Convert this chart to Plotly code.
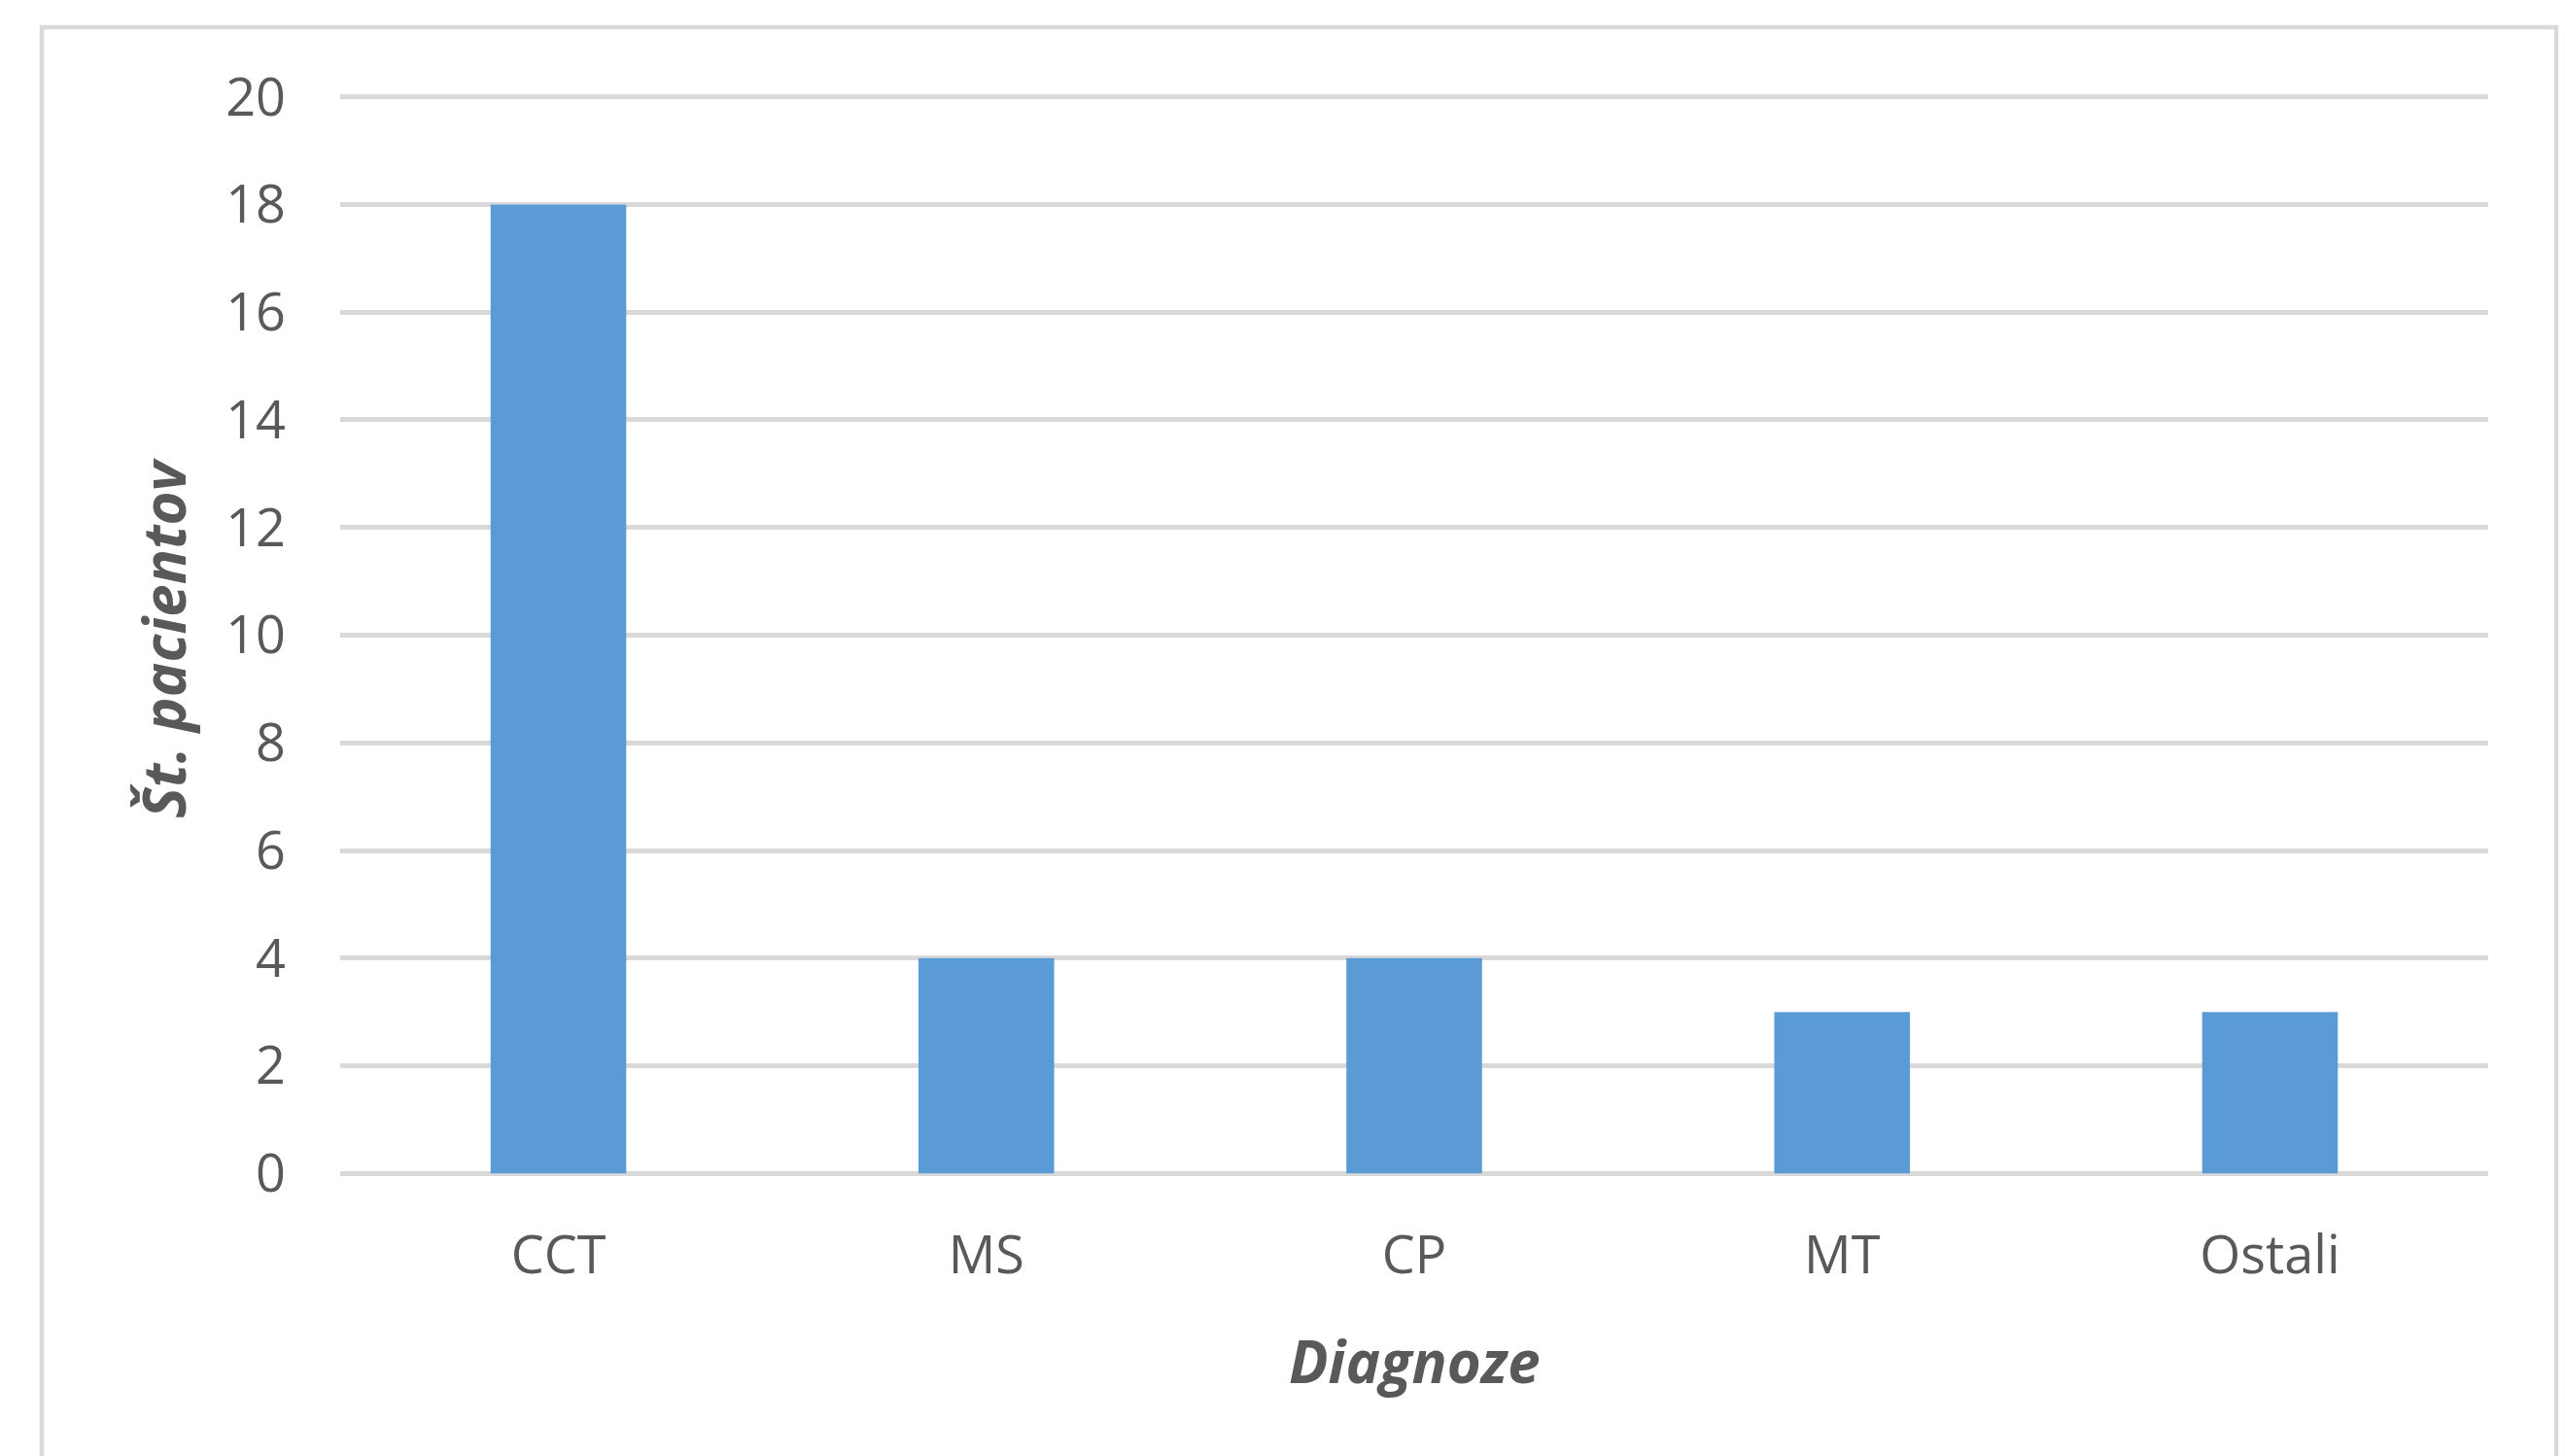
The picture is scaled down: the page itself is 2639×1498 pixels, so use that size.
import plotly.graph_objects as go

categories = ["CCT", "MS", "CP", "MT", "Ostali"]
patients = [18, 4, 4, 3, 3]
y_ticks = [0, 2, 4, 6, 8, 10, 12, 14, 16, 18, 20]
x_title = "Diagnoze"
y_title = "Št. pacientov"

W, H = 2639, 1498
L, R, T, B = 350, 79, 98, 289
pw = W - L - R
ph = H - T - B

def px_x(px):
    return (px - L) / pw

def px_y(py):
    return (H - B - py) / ph

fig = go.Figure()
fig.add_trace(go.Bar(
    x=categories, y=patients,
    marker=dict(color="#5B9BD5", line=dict(width=0)),
))

font = "Open Sans, Liberation Sans, sans-serif"
fig.update_layout(
    width=W, height=H,
    margin=dict(l=L, r=R, t=T, b=B),
    paper_bgcolor="white", plot_bgcolor="white",
    bargap=0.683,
    showlegend=False,
    font=dict(family=font, color="#595959", size=54),
    xaxis=dict(
        range=[-0.51, 4.51],
        showgrid=False, showline=False, zeroline=False, ticks="",
        tickfont=dict(size=54, color="#595959", family=font),
        ticklabelstandoff=46,
    ),
    yaxis=dict(
        range=[-0.03, 20.03], tickvals=y_ticks, ticktext=[str(v) for v in y_ticks],
        showgrid=True, gridcolor="#d9d9d9", gridwidth=4.5,
        zeroline=False, showline=False, ticks="",
        tickfont=dict(size=54, color="#595959", family=font),
        ticklabelstandoff=55,
    ),
    annotations=[
        dict(text="<b><i>" + x_title + "</i></b>", xref="paper", yref="paper",
             x=0.5, y=px_y(1400), xanchor="center", yanchor="middle",
             showarrow=False, font=dict(size=60, color="#595959", family=font)),
        dict(text="<b><i>" + y_title + "</i></b>", xref="paper", yref="paper",
             x=px_x(168), y=px_y(656), xanchor="center", yanchor="middle",
             textangle=-90, showarrow=False,
             font=dict(size=60, color="#595959", family=font)),
    ],
    shapes=[
        dict(type="rect", xref="paper", yref="paper",
             x0=px_x(43), x1=px_x(2630), y0=px_y(1560), y1=px_y(28),
             line=dict(color="#d9d9d9", width=4.5), fillcolor="rgba(0,0,0,0)",
             layer="below"),
    ],
)

fig.write_html("out.html", config={"displayModeBar": False},
               post_script="document.body.style.margin='0';document.body.style.padding='0';")
